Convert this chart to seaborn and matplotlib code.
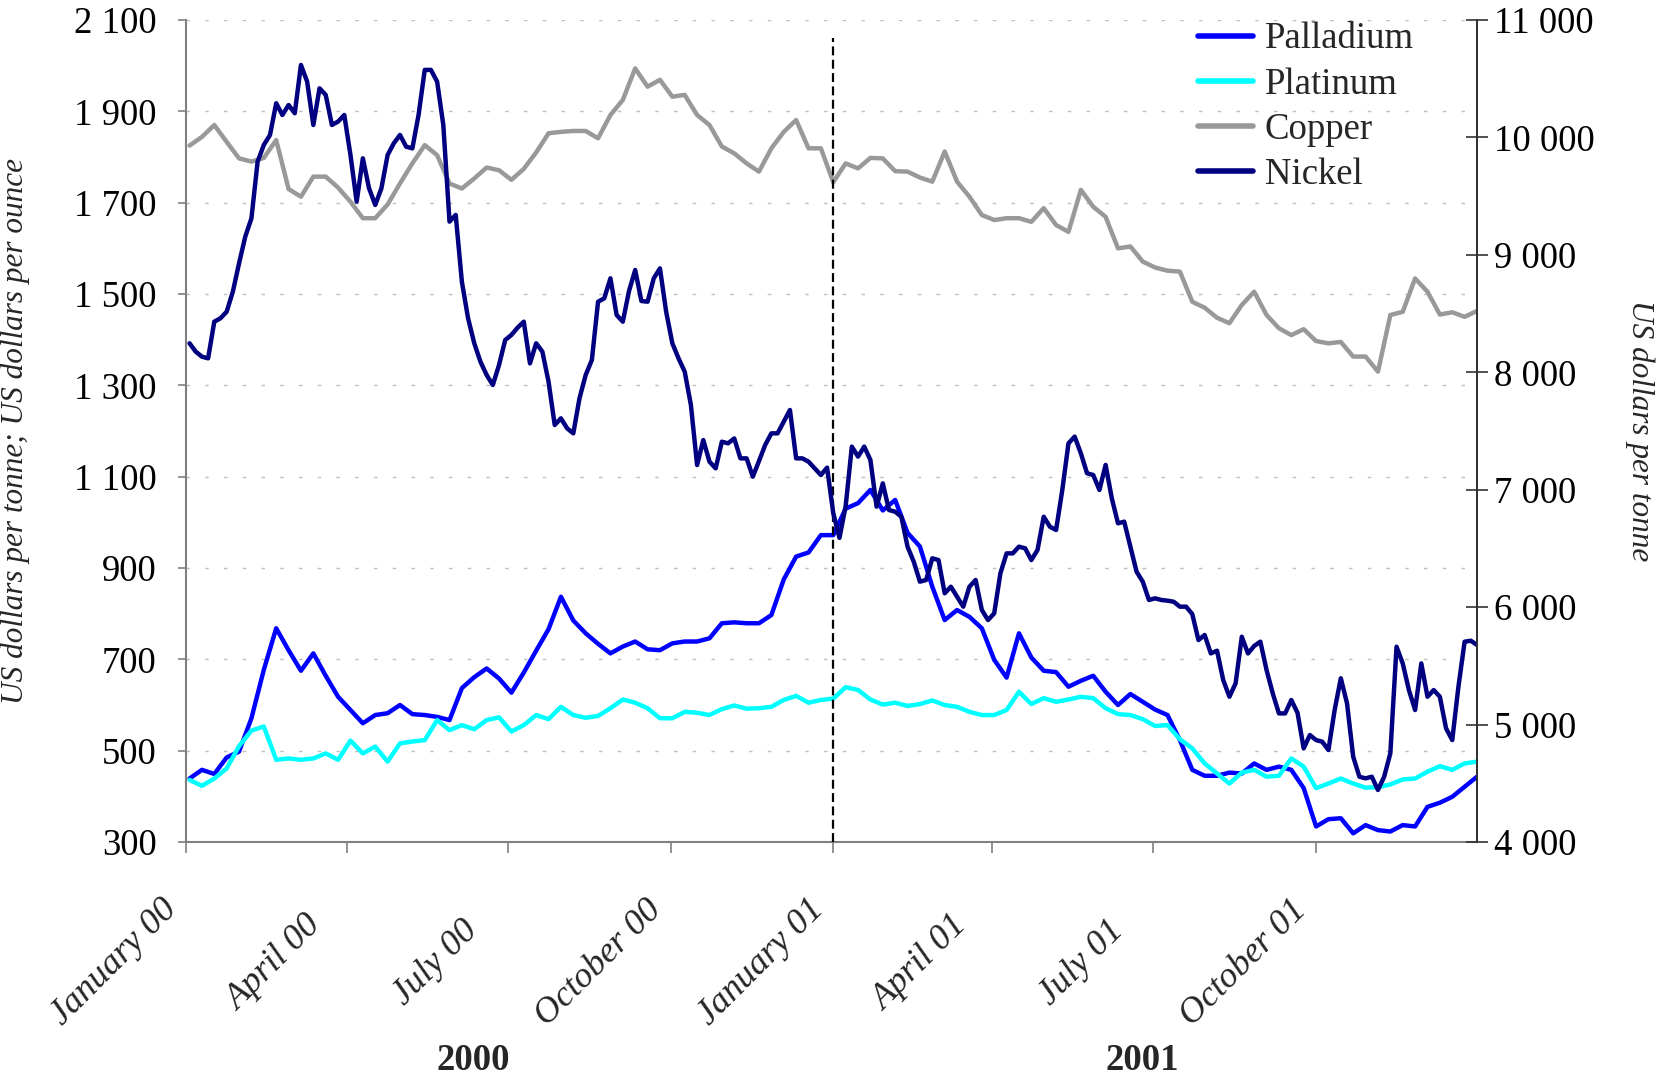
import numpy as np
import pandas as pd
import matplotlib
matplotlib.use("Agg")
import matplotlib.pyplot as plt
import matplotlib.transforms as mtransforms
from matplotlib.lines import Line2D
from matplotlib.ticker import FuncFormatter
import seaborn as sns

sns.set_theme(style="white")
plt.rcParams["font.family"] = ["Liberation Serif", "DejaVu Serif"]

# ---------------- data ----------------
# weekly observations starting 3 Jan 2000 (left axis)
palladium = [439, 458, 449, 485, 498, 571, 677, 768, 720, 675,
             713, 664, 618, 589, 560, 578, 582, 600, 580, 578,
             574, 567, 637, 661, 680, 658, 627,
             671, 719, 766, 837, 785, 757, 734, 713, 728, 739,
             722, 720, 735, 739, 739, 746, 779, 781, 779, 779,
             797, 875, 925, 934, 972, 972, 1030,
             1042, 1071, 1026, 1049, 977, 947, 859, 786, 808, 793,
             768, 699, 660, 757, 704, 675, 672, 640, 653, 664,
             629, 600, 624, 607, 590, 578,
             523, 458, 445, 445, 452, 450, 472, 458, 465, 458,
             418, 334, 350, 352, 319, 337, 326, 323, 337, 334,
             377, 386, 399, 421, 443]

platinum = [436, 423, 439, 461, 510, 544, 553, 480, 483, 480,
            483, 494, 480, 522, 494, 509, 476, 516, 520, 523,
            567, 545, 556, 547, 567, 573, 542,
            556, 578, 569, 596, 578, 572, 576, 593, 612, 605,
            593, 571, 571, 585, 583, 578, 591, 599, 592, 593,
            596, 611, 620, 605, 611, 614, 639,
            633, 612, 601, 605, 598, 602, 610, 600, 596, 585,
            578, 578, 589, 629, 602, 615, 607, 612, 618, 615,
            593, 580, 578, 569, 554, 556,
            525, 505, 472, 450, 428, 452, 458, 443, 445, 483,
            465, 418, 428, 439, 428, 419, 420, 426, 437, 439,
            454, 466, 458, 472, 476]

copper = [1825, 1844, 1870, 1833, 1797, 1790, 1798, 1837, 1730, 1713,
          1757, 1757, 1733, 1702, 1666, 1666, 1696, 1742, 1786, 1826,
          1804, 1742, 1731, 1753, 1777, 1771, 1750, 1774, 1810, 1852,
          1855, 1857, 1857, 1841, 1892, 1925, 1994, 1954, 1969, 1932,
          1936, 1892, 1870, 1823, 1808, 1786, 1768, 1819, 1855, 1881,
          1819, 1819, 1745, 1786, 1775, 1798, 1797, 1769, 1768, 1755,
          1746, 1812, 1746, 1713, 1673, 1662, 1666, 1666, 1658, 1688,
          1651, 1636, 1728, 1691, 1669, 1600, 1604, 1571, 1558, 1551,
          1549, 1483, 1470, 1448, 1436, 1476, 1505, 1454, 1425, 1410,
          1423, 1397, 1392, 1395, 1363, 1363, 1330, 1454, 1461, 1534,
          1505, 1455, 1460, 1450, 1463]

# twice-weekly observations starting 3 Jan 2000 (right axis, US$/tonne)
nickel = [8247, 8176, 8133, 8119, 8431, 8460, 8516, 8687, 8928, 9155,
          9311, 9794, 9936, 10021, 10291, 10191, 10276, 10206, 10617, 10475,
          10106, 10418, 10362, 10106, 10135, 10191, 9850, 9453, 9822, 9567,
          9425, 9567, 9850, 9950, 10021, 9921, 9907, 10191, 10575, 10575,
          10475, 10106, 9283, 9340, 8771, 8460, 8247, 8090, 7977, 7892,
          8062, 8275, 8318, 8380, 8431, 8076, 8247, 8176, 7920, 7551,
          7608, 7523, 7480, 7778, 7977, 8105, 8601, 8630, 8800, 8488,
          8431, 8692, 8871, 8607, 8601, 8800, 8885, 8516, 8247, 8119,
          8005, 7721, 7210, 7423, 7239, 7182, 7409, 7395, 7437, 7267,
          7267, 7111, 7244, 7381, 7480, 7480, 7579, 7679, 7267, 7267,
          7239, 7182, 7125, 7188, 6800, 6590, 6860, 7367, 7282, 7367,
          7253, 6856, 7054, 6827, 6813, 6770, 6515, 6387, 6217, 6231,
          6416, 6401, 6118, 6174, 6089, 6004, 6174, 6231, 5976, 5890,
          5947, 6288, 6458, 6458, 6515, 6501, 6401, 6487, 6770, 6685,
          6657, 6998, 7395, 7452, 7310, 7140, 7125, 6998, 7211, 6927,
          6714, 6728, 6515, 6302, 6217, 6061, 6075, 6061, 6055, 6046,
          6004, 6004, 5941, 5720, 5763, 5606, 5629, 5379, 5237, 5351,
          5748, 5606, 5669, 5706, 5465, 5266, 5095, 5095, 5209, 5101,
          4797, 4911, 4868, 4854, 4783, 5124, 5394, 5181, 4726, 4556,
          4542, 4556, 4443, 4556, 4755, 5663, 5521, 5294, 5124, 5521,
          5237, 5294, 5237, 4968, 4868, 5323, 5706, 5714, 5678]

series_names = ["Palladium", "Platinum", "Copper", "Nickel"]
series_colors = ["#0000FF", "#00FFFF", "#999999", "#000080"]

tick_dates = ["2000-01-01", "2000-04-01", "2000-07-01", "2000-10-01",
              "2001-01-01", "2001-04-01", "2001-07-01", "2001-10-01"]
tick_labels = ["January 00", "April 00", "July 00", "October 00",
               "January 01", "April 01", "July 01", "October 01"]
year_labels = ["2000", "2001"]
left_ticks = list(range(300, 2101, 200))
right_ticks = list(range(4000, 11001, 1000))

start = pd.Timestamp("2000-01-03")
weekly_dates = start + pd.to_timedelta(np.arange(len(palladium)) * 7, unit="D")
nickel_dates = start + pd.to_timedelta(np.arange(len(nickel)) * 3.5, unit="D")

# ---------------- figure ----------------
W, H = 1666, 1078
fig = plt.figure(figsize=(W / 100, H / 100), dpi=100)
x0, x1, y0, y1 = 186, 1477, 20, 842
ax = fig.add_axes([x0 / W, 1 - y1 / H, (x1 - x0) / W, (y1 - y0) / H])
ax2 = ax.twinx()

lw = 3.2
sns.lineplot(x=weekly_dates, y=palladium, ax=ax, color=series_colors[0], lw=lw,
             legend=False)
sns.lineplot(x=weekly_dates, y=platinum, ax=ax, color=series_colors[1], lw=lw,
             legend=False)
sns.lineplot(x=weekly_dates, y=copper, ax=ax, color=series_colors[2], lw=lw,
             legend=False)
sns.lineplot(x=nickel_dates, y=nickel, ax=ax2, color=series_colors[3], lw=lw,
             legend=False)

# vertical dashed separator at start of 2001
ax.vlines(pd.Timestamp("2001-01-01"), 300, 2060, colors="black",
          linestyles=(0, (4, 2)), lw=1.6, zorder=5)

ax.set_xlim(pd.Timestamp("2000-01-01"), pd.Timestamp("2001-12-31"))
ax.set_ylim(300, 2100)
ax2.set_ylim(4000, 11000)

fmt = FuncFormatter(lambda v, p: f"{v:,.0f}".replace(",", " "))
ax.set_yticks(left_ticks)
ax.yaxis.set_major_formatter(fmt)
ax2.set_yticks(right_ticks)
ax2.yaxis.set_major_formatter(fmt)

ax.yaxis.grid(True, color="#bfbfbf", linestyle=(0, (2.5, 11)), lw=1.0)
ax.xaxis.grid(False)
ax2.grid(False)

for a in (ax, ax2):
    a.spines["top"].set_visible(False)
ax.spines["left"].set_color("#808080")
ax.spines["bottom"].set_color("#808080")
ax.spines["left"].set_linewidth(1.5)
ax.spines["bottom"].set_linewidth(1.5)
ax2.spines["right"].set_color("#333333")
ax2.spines["right"].set_linewidth(1.3)
ax2.spines["left"].set_visible(False)
ax2.spines["bottom"].set_visible(False)

ax.tick_params(axis="y", direction="out", length=6, width=1.2, color="#808080",
               labelsize=26.5, pad=15, left=True, labelcolor="black")
ax2.tick_params(axis="y", direction="inout", length=16, width=1.2, color="#333333",
                labelsize=26.5, pad=4, right=True, labelcolor="black")
ax.tick_params(axis="x", direction="out", length=8, width=1.2, color="#808080",
               bottom=True, pad=79)

ax.set_xticks(pd.to_datetime(tick_dates))
ax.set_xticklabels(tick_labels, rotation=45, ha="center", va="center",
                   rotation_mode="anchor", fontstyle="italic", fontsize=26)
offset = mtransforms.ScaledTranslation(-0.72, 0, fig.dpi_scale_trans)
for lab in ax.get_xticklabels():
    lab.set_transform(lab.get_transform() + offset)

ax.set_xlabel("")
ax.set_ylabel("US dollars per tonne; US dollars per ounce", fontstyle="italic",
              fontsize=22.5)
ax.yaxis.set_label_coords((30 - x0) / (x1 - x0), 0.5)
ax2.set_ylabel("US dollars per tonne", fontstyle="italic", fontsize=22.5,
               rotation=270, va="center")
ax2.yaxis.set_label_coords((1640 - x0) / (x1 - x0), 0.5)

# year labels under the axis
fig.text(473 / W, 1 - 1060 / H, year_labels[0], ha="center", va="center",
         fontsize=26.5, fontweight="bold")
fig.text(1142 / W, 1 - 1060 / H, year_labels[1], ha="center", va="center",
         fontsize=26.5, fontweight="bold")

# legend combining both axes
handles = [Line2D([], [], color=c, lw=4) for c in series_colors]
leg = ax2.legend(handles, series_names, loc="upper left",
                 bbox_to_anchor=(1198 / W, 1 - 22 / H),
                 bbox_transform=fig.transFigure, frameon=False,
                 fontsize=26.5, handlelength=1.5, handletextpad=0.32,
                 labelspacing=0.29, borderpad=0, borderaxespad=0)

fig.savefig("out.png", dpi=100, facecolor="white")
